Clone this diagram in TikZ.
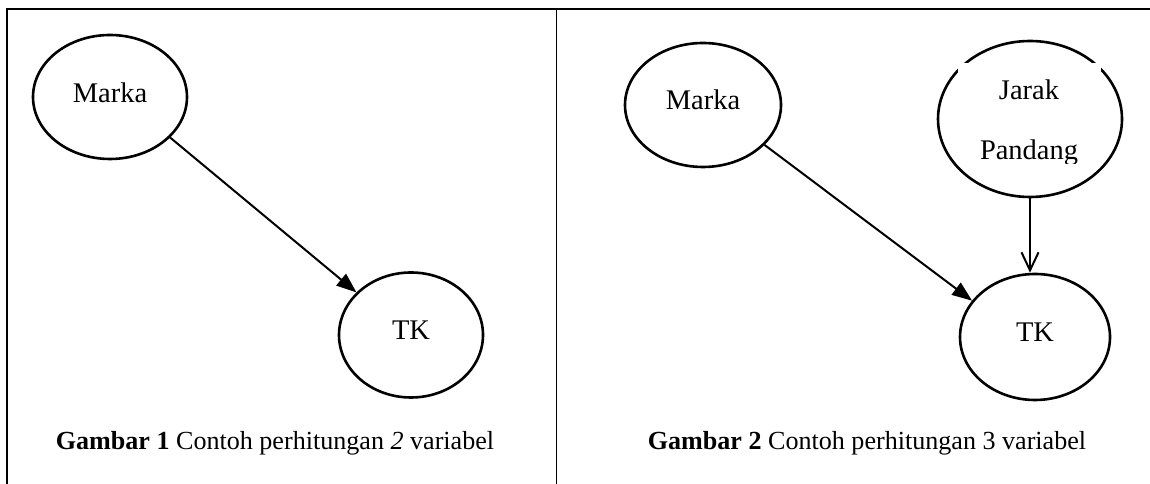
\documentclass[tikz,border=0pt]{standalone}
\usepackage{fontspec}
\setmainfont{Liberation Serif}
\usetikzlibrary{arrows.meta,shapes.geometric}
\def\upx{0.4217pt}
\begin{document}
\begin{tikzpicture}[x=0.4217pt,y=-0.4217pt,
  frameline/.style={line width=1.5*\upx, black},
  varnode/.style={ellipse, draw, line width=2.6*\upx, inner sep=0pt,
    font=\fontsize{12}{14}\selectfont},
  solidarrow/.style={line width=2*\upx, -{Triangle[length=20*\upx,width=15*\upx]}},
  openarrow/.style={line width=2*\upx, -{Straight Barb[length=18*\upx,width=17*\upx,line width=2*\upx]}},
  captiontext/.style={anchor=base, inner sep=0pt, font=\fontsize{11}{13}\selectfont},
  linetext/.style={anchor=base, inner sep=0pt, font=\fontsize{12}{14}\selectfont}
]
\useasboundingbox (0,0) rectangle (1150,484);
% frame
\coordinate (ftl) at (7,9);
\coordinate (ftr) at (1150,9);
\coordinate (fbl) at (7,484);
\coordinate (dtop) at (556.7,9);
\coordinate (dbot) at (556.7,484);
\draw[frameline] (fbl) -- (ftl) -- (ftr);
\draw[frameline] (dtop) -- (dbot);

% left panel
\node[varnode, minimum width=154*\upx, minimum height=124*\upx] (m1) at (110,97) {\raisebox{3.4pt}{Marka}};
\node[varnode, minimum width=144*\upx, minimum height=125*\upx] (tk1) at (411,335) {\raisebox{4.2pt}{TK}};
\draw[solidarrow] (m1.-34) -- (tk1.142);
\node[captiontext] (cap1) at (275,450) {\textbf{Gambar 1} Contoh perhitungan \textit{2} variabel};

% right panel
\node[varnode, minimum width=156*\upx, minimum height=124*\upx] (m2) at (703,105) {\raisebox{4.2pt}{Marka}};
\node[varnode, minimum width=184*\upx, minimum height=156*\upx] (jp) at (1030,119) {};
\node[fill=white, inner sep=0pt, minimum width=143*\upx, minimum height=100*\upx] (jpbox) at (1029.5,113) {};
\begin{scope}
  \clip (jpbox.north west) rectangle (jpbox.south east);
  \node[linetext] (jp1) at (1029,100) {Jarak};
  \node[linetext] (jp2) at (1029,160) {Pandang};
\end{scope}
\node[varnode, minimum width=150*\upx, minimum height=126*\upx] (tk2) at (1035,337) {\raisebox{4.2pt}{TK}};
\draw[solidarrow] (m2.-33) -- (tk2.150);
\draw[openarrow] (jp.south) -- (jp.south |- tk2.north);
\node[captiontext] (cap2) at (867,450) {\textbf{Gambar 2} Contoh perhitungan 3 variabel};
\end{tikzpicture}
\end{document}
